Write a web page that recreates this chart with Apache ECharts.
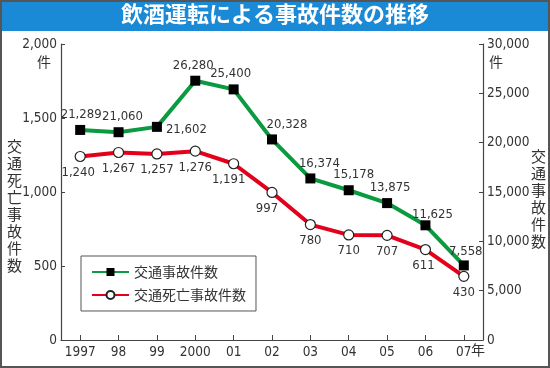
<!DOCTYPE html>
<html><head><meta charset="utf-8">
<script src="https://cdn.jsdelivr.net/npm/echarts@6/dist/echarts.min.js"></script>
<style>html,body{margin:0;padding:0;background:#fff}#c{width:550px;height:368px}</style>
</head><body><div id="c"></div>
<script>
const years = ['1997','98','99','2000','01','02','03','04','05','06','07'];
const accidents = [21289,21060,21602,26280,25400,20328,16374,15178,13875,11625,7558];
const deaths = [1240,1267,1257,1276,1191,997,780,710,707,611,430];
const title = '飲酒運転による事故件数の推移';
const accName = '交通事故件数';
const deathName = '交通死亡事故件数';

const FONT = "'DejaVu Sans Condensed','Liberation Sans Narrow','Noto Sans CJK JP',sans-serif";
const CJK = "'Noto Sans CJK JP',sans-serif";
const fmt = v => v.toLocaleString('en-US');

const accLabelOpt = [
  {position:'top', offset:[1,0]},
  {position:'top', offset:[4,0]},
  {position:'right', offset:[0,3]},
  {position:'top', offset:[-2,0]},
  {position:'top', offset:[-3,0]},
  {position:'top', offset:[15,1]},
  {position:'top', offset:[9,1]},
  {position:'top', offset:[5,0]},
  {position:'top', offset:[3,0]},
  {position:'top', offset:[7,5]},
  {position:'top', offset:[2,2]}
];
const deathLabelOpt = [
  {position:'bottom', offset:[-2,0]},
  {position:'bottom', offset:[0,0]},
  {position:'bottom', offset:[0,0]},
  {position:'bottom', offset:[0,0]},
  {position:'bottom', offset:[-5,0]},
  {position:'bottom', offset:[-5,0]},
  {position:'bottom', offset:[0,0]},
  {position:'bottom', offset:[0,0]},
  {position:'bottom', offset:[0,0]},
  {position:'bottom', offset:[-2,0]},
  {position:'bottom', offset:[0,0]}
];

const chart = echarts.init(document.getElementById('c'), null, {renderer:'canvas'});
const axisLine = {show:true, lineStyle:{color:'#444', width:1.2}};
const axisLabelStyle = {color:'#333', fontSize:13.5, fontFamily:FONT};

chart.setOption({
  animation:false,
  backgroundColor:'#fff',
  grid:{left:61, right:67, top:44, bottom:28},
  xAxis:{
    type:'category', data:years, boundaryGap:true,
    axisLine:axisLine,
    axisTick:{show:true, inside:true, alignWithLabel:true, interval:0, length:5, lineStyle:{color:'#444'}},
    axisLabel:Object.assign({margin:6, interval:0}, axisLabelStyle),
    splitLine:{show:false}
  },
  yAxis:[
    {type:'value', min:0, max:2000, interval:500, position:'left',
     axisLine:axisLine,
     axisTick:{show:true, inside:true, length:4, lineStyle:{color:'#444'}},
     axisLabel:Object.assign({margin:4, formatter:v=>fmt(v)}, axisLabelStyle),
     splitLine:{show:false}},
    {type:'value', min:0, max:30000, interval:5000, position:'right',
     axisLine:axisLine,
     axisTick:{show:true, inside:true, length:4, lineStyle:{color:'#444'}},
     axisLabel:Object.assign({margin:4, formatter:v=>fmt(v)}, axisLabelStyle),
     splitLine:{show:false}}
  ],
  legend:{
    orient:'vertical', left:81, top:256, padding:[9,10,9,10],
    itemWidth:37, itemHeight:10, itemGap:9,
    borderColor:'#555', borderWidth:1, backgroundColor:'#fff',
    textStyle:{fontSize:14, color:'#333', fontFamily:CJK},
    data:[accName, deathName]
  },
  series:[
    {name:accName, type:'line', yAxisIndex:1, data:accidents.map((v,i)=>({value:v, label:accLabelOpt[i]})),
     lineStyle:{color:'#0a9a40', width:4}, itemStyle:{color:'#000', borderColor:'#000', borderWidth:0},
     color:'#0a9a40',
     symbol:'rect', symbolSize:10, showAllSymbol:true,
     label:{show:true, distance:4, color:'#333', fontSize:13, fontFamily:FONT, formatter:p=>fmt(p.value)},
     z:3},
    {name:deathName, type:'line', yAxisIndex:0, data:deaths.map((v,i)=>({value:v, label:deathLabelOpt[i]})),
     lineStyle:{color:'#e2001a', width:4}, itemStyle:{color:'#fff', borderColor:'#222', borderWidth:1.2},
     color:'#e2001a',
     symbol:'circle', symbolSize:10, showAllSymbol:true,
     label:{show:true, distance:4, color:'#333', fontSize:13, fontFamily:FONT, formatter:p=>fmt(p.value)},
     z:4}
  ],
  graphic:[
    {type:'rect', shape:{x:0,y:0,width:550,height:31}, style:{fill:'#1b8ad6'}, z:10},
    {type:'text', left:'center', top:3, style:{text:title, fill:'#fff', font:"bold 22px 'Noto Sans CJK JP',sans-serif"}, z:11},
    {type:'rect', shape:{x:1,y:1,width:548,height:366}, style:{fill:'none', stroke:'#555', lineWidth:2}, z:12},
    {type:'text', left:37, top:55, style:{text:'件', fill:'#333', font:"14px 'Noto Sans CJK JP',sans-serif"}},
    {type:'text', left:489, top:55, style:{text:'件', fill:'#333', font:"14px 'Noto Sans CJK JP',sans-serif"}},
    {type:'text', left:471, top:343, style:{text:'年', fill:'#333', font:"14px 'Noto Sans CJK JP',sans-serif"}},
    {type:'text', left:7, top:138, style:{text:deathName.split('').join('\n'), fill:'#333', font:"15px 'Noto Sans CJK JP',sans-serif", lineHeight:17}},
    {type:'text', left:531, top:148, style:{text:accName.split('').join('\n'), fill:'#333', font:"15px 'Noto Sans CJK JP',sans-serif", lineHeight:17}}
  ]
});
</script>
</body></html>
